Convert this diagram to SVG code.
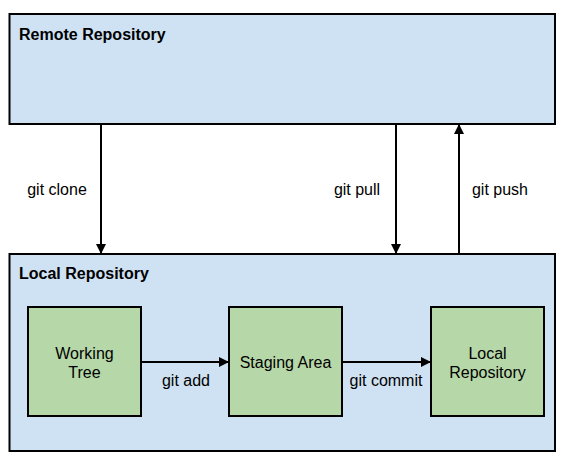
<svg xmlns="http://www.w3.org/2000/svg" width="568" height="456" viewBox="0 0 568 456">
<style>
.box{fill:#cfe2f3;stroke:#000;stroke-width:2}
.node{fill:#b6d7a8;stroke:#000;stroke-width:2}
.title{font-family:"Liberation Sans",Arial,sans-serif;font-size:16px;font-weight:bold;fill:#000}
.t{font-family:"Liberation Sans",Arial,sans-serif;font-size:16px;fill:#000;text-anchor:middle}
.c{stroke:#000;stroke-width:2;fill:none;marker-end:url(#ah)}
</style>
<defs>
<marker id="ah" viewBox="0 0 10 10" refX="10" refY="5" markerWidth="11" markerHeight="10" markerUnits="userSpaceOnUse" orient="auto">
<path d="M0,0 L10,5 L0,10 Z" fill="#000"/>
</marker>
</defs>
<g id="remote">
<rect class="box" x="9.5" y="14" width="545.5" height="110"/>
<text class="title" x="19" y="40">Remote Repository</text>
</g>
<g id="local">
<rect class="box" x="9.5" y="254" width="545.5" height="197"/>
<text class="title" x="19" y="279">Local Repository</text>
</g>
<g id="working-tree">
<rect class="node" x="28" y="307" width="113" height="109"/>
<text class="t" x="84.5" y="359">Working</text>
<text class="t" x="84.5" y="378">Tree</text>
</g>
<g id="staging-area">
<rect class="node" x="229" y="307" width="113" height="109"/>
<text class="t" x="285.5" y="368">Staging Area</text>
</g>
<g id="local-repo">
<rect class="node" x="431" y="307" width="113" height="109"/>
<text class="t" x="487.5" y="359">Local</text>
<text class="t" x="487.5" y="378">Repository</text>
</g>
<g id="connectors">
<line class="c" x1="101" y1="124" x2="101" y2="254"/>
<line class="c" x1="396" y1="124" x2="396" y2="254"/>
<line class="c" x1="459" y1="254" x2="459" y2="124"/>
<line class="c" x1="141" y1="362" x2="229" y2="362"/>
<line class="c" x1="342" y1="362" x2="431" y2="362"/>
<text class="t" x="57" y="195">git clone</text>
<text class="t" x="357" y="195">git pull</text>
<text class="t" x="500" y="195">git push</text>
<text class="t" x="186" y="386">git add</text>
<text class="t" x="386" y="386">git commit</text>
</g>
</svg>
